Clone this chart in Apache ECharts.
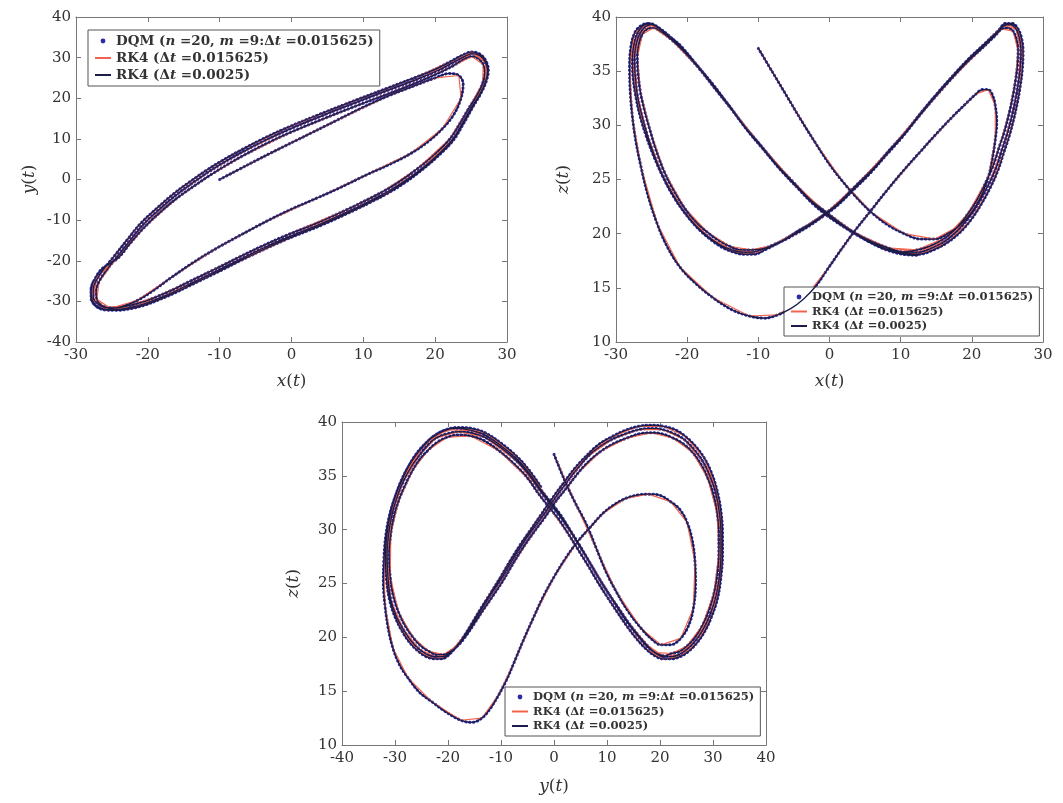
<!DOCTYPE html>
<html lang="en">
<head>
<meta charset="UTF-8">
<title>Lorenz trajectory: DQM vs RK4</title>
<script src="https://cdn.jsdelivr.net/npm/echarts@6/dist/echarts.min.js"></script>
<style>
  html, body { margin: 0; padding: 0; background: #fff; }
  #chart { width: 1063px; height: 803px; }
</style>
</head>
<body>
<div id="chart"></div>
<script>
// ---- traced trajectory points ----

// x(t) vs y(t)
const p1Start = [[-10,0],[-6,3.7],[-2,7.3],[2,10.8],[6,14.3],[10,17.8],[13.5,20.6],[17,23],[20,25],[22,26.1],[23.3,25.6],[23.9,23.5],[23.6,20],[22.6,16],[21,12.5],[19,9.3],[16.5,6.3],[13.5,3.6],[10.5,1.2],[7,-1.8],[3.5,-4.6],[0,-7.3],[-3.5,-10.3],[-7,-13.6],[-10.5,-17],[-13.9,-20.7],[-16.8,-24.2],[-19.3,-27.4],[-21.5,-29.8],[-23.5,-31.2],[-25.2,-31.7],[-26.4,-31],[-27.1,-29.5],[-27.2,-27.5],[-26.8,-25.2],[-25.8,-22.5]];
const p1LoopA = [[-24.4,-19.3],[-22.6,-15.3],[-20.7,-11.2],[-18.4,-7.4],[-16.1,-3.9],[-13.8,-0.9],[-11.6,1.8],[-9.3,4.3],[-7,6.6],[-3.7,9.6],[-0.4,12.3],[4,15.5],[8.6,18.7],[13.2,21.8],[17.8,24.9],[20.4,26.9],[22.4,28.7],[24,30.2],[25.2,31],[26.3,30.4],[27,28.8],[27.3,26.7],[27,24],[26.2,21],[25.1,17.8],[23.8,13.8],[22.4,9.8],[20.2,5.8],[17.8,2.2],[15.5,-0.7],[13.2,-3.2],[10.9,-5.3],[8.6,-7.3],[4,-11],[-0.5,-14.2],[-3.8,-16.8],[-7,-19.5],[-10.4,-22.5],[-13.9,-25.5],[-16.2,-27.5],[-18.4,-29.2],[-20.5,-30.6],[-22.5,-31.5],[-24.5,-32],[-26.1,-31.9],[-27.3,-31],[-27.9,-29.2],[-27.9,-27],[-27.4,-24.6],[-26.4,-22]];
const p1LoopB = [[-24.2,-19.4],[-22.4,-15.6],[-20.4,-11.6],[-18.1,-7.8],[-15.8,-4.4],[-13.4,-1.4],[-11.2,1.2],[-8.9,3.7],[-6.6,6],[-3.3,9],[0,11.7],[4.4,14.9],[9,18.1],[13.6,21.2],[18,24.3],[20.6,26.3],[22.6,28.1],[24,29.6],[25.1,30.3],[26,29.8],[26.7,28.3],[26.9,26.3],[26.6,23.7],[25.8,20.7],[24.7,17.6],[23.4,13.7],[22,9.9],[19.8,6],[17.4,2.5],[15.1,-0.4],[12.8,-2.9],[10.5,-5],[8.2,-7],[3.7,-10.6],[-0.8,-13.8],[-4.1,-16.4],[-7.3,-19.1],[-10.7,-22.1],[-14.2,-25.1],[-16.5,-27.1],[-18.7,-28.8],[-20.8,-30.2],[-22.8,-31.1],[-24.6,-31.6],[-26,-31.5],[-27,-30.6],[-27.6,-29],[-27.6,-27],[-27.1,-24.6],[-26.2,-22.2]];
const p1LoopC = [[-24.7,-18.9],[-22.9,-14.9],[-21,-10.8],[-18.7,-7],[-16.4,-3.5],[-14.1,-0.5],[-11.9,2.2],[-9.6,4.7],[-7.3,7],[-4,10],[-0.7,12.7],[3.7,15.9],[8.3,19.1],[12.9,22.2],[17.5,25.3],[20.2,27.3],[22.2,29.1],[23.8,30.6],[25.1,31.4],[26.3,30.8],[27.1,29.1],[27.4,26.9],[27.1,24.1],[26.3,21],[25.2,17.7],[23.9,13.6],[22.5,9.6],[20.3,5.6],[17.9,2],[15.6,-1],[13.3,-3.5],[11,-5.6],[8.7,-7.6],[4.1,-11.3],[-0.4,-14.5],[-3.7,-17.1],[-6.9,-19.8],[-10.3,-22.8],[-13.8,-25.8],[-16.1,-27.8],[-18.3,-29.5],[-20.4,-30.9],[-22.4,-31.8],[-24.4,-32.2],[-26,-32.1],[-27.2,-31.2],[-27.8,-29.4],[-27.9,-27.2],[-27.5,-24.8]];

// x(t) vs z(t)
const p2Start = [[-10,37.1],[-8,34.9],[-6,32.7],[-4,30.5],[-2,28.4],[0,26.4],[2,24.7],[4,23.2],[6,21.9],[8.2,20.8],[10.5,20],[12.8,19.5],[14.8,19.5],[16.6,20],[18.2,20.7],[19.5,21.6],[20.6,22.6],[21.6,23.9],[22.4,25.4],[22.9,27],[23.3,28.7],[23.5,30.3],[23.3,31.8],[22.9,32.8],[22.3,33.3],[21.5,33.3],[20.6,32.9],[19,31.9],[17.3,30.8],[15,29.2],[12.8,27.6],[10.5,25.9],[8.2,24.1],[5.9,22.2],[3.6,20.3],[1.5,18.4],[-0.4,16.6],[-2,15.1],[-3.6,14],[-5.4,13.1],[-7.3,12.5],[-9.1,12.2],[-11.3,12.4],[-13.8,13],[-16.4,14.1],[-18.8,15.4],[-21,16.9],[-22.8,18.8],[-24.2,20.9],[-25.5,23.5],[-26.5,26.2],[-27.2,28.5],[-27.7,30.8],[-28,33.1],[-28.1,35.4],[-27.9,37.3],[-27.4,38.5],[-26.7,39.1],[-25.6,39.4],[-24.3,39.1],[-22.7,38.3],[-21,37.4],[-18.7,35.6],[-16.4,33.8],[-14.1,31.8],[-11.8,29.8],[-9.5,28],[-7.2,26.2],[-5,24.6],[-2.7,23.1],[-0.7,22.1],[1.3,21.1],[3.5,20.1],[5.9,19.3],[8.2,18.7],[10.5,18.3]];
const p2LoopA = [[12.5,18.3],[14.5,18.7],[16.4,19.4],[18,20.3],[19.6,21.5],[21,22.9],[22.4,24.6],[23.4,26.1],[24.2,27.7],[25,29.3],[25.6,30.8],[26.1,32.3],[26.5,33.8],[26.8,35.4],[26.9,36.9],[26.7,38],[26.2,38.9],[25.4,39.3],[24.5,39.2],[23.6,38.6],[21.7,37.4],[19.6,36.1],[17.3,34.5],[15,32.8],[12.7,31],[10.5,29.2],[8.2,27.5],[5.9,25.8],[3.6,24.3],[1.3,22.8],[-0.7,21.8],[-2.7,20.9],[-4.5,20.2],[-6.2,19.5],[-7.8,19],[-9.3,18.6],[-10.8,18.3],[-12.3,18.3],[-13.7,18.5],[-15.2,18.9],[-17,19.7],[-18.7,20.7],[-20.4,22],[-21.9,23.5],[-23.4,25.3],[-24.6,27.2],[-25.6,29.1],[-26.4,31],[-27,32.8],[-27.3,34.6],[-27.4,36.1],[-27.2,37.4],[-26.7,38.4],[-25.9,39.1],[-25,39.3],[-24.1,39],[-22.5,38.2],[-20.9,37.2],[-18.7,35.6],[-16.4,33.7],[-14.1,31.8],[-11.8,29.8],[-9.5,28],[-7.2,26.2],[-4.9,24.6],[-2.7,23.1],[-0.7,22],[1.3,21],[3.5,20.1],[5.8,19.3],[8,18.7],[10.2,18.3]];
const p2LoopB = [[12.3,18.5],[14.3,18.9],[16.2,19.6],[17.8,20.5],[19.3,21.7],[20.7,23.1],[22,24.8],[23,26.3],[23.8,27.9],[24.6,29.5],[25.2,31],[25.7,32.5],[26.1,34],[26.4,35.5],[26.5,36.9],[26.3,37.9],[25.8,38.7],[25.1,39],[24.2,38.9],[23.3,38.3],[21.4,37.1],[19.3,35.8],[17,34.2],[14.7,32.5],[12.4,30.7],[10.2,28.9],[7.9,27.2],[5.6,25.5],[3.3,24],[1.1,22.6],[-0.9,21.6],[-2.9,20.7],[-4.7,20],[-6.4,19.4],[-8,18.9],[-9.5,18.6],[-11,18.5],[-12.5,18.5],[-13.9,18.8],[-15.4,19.3],[-17.1,20.1],[-18.8,21.1],[-20.4,22.4],[-21.8,23.9],[-23.2,25.7],[-24.3,27.6],[-25.2,29.5],[-26,31.4],[-26.6,33.2],[-26.9,34.9],[-27,36.3],[-26.8,37.5],[-26.3,38.4],[-25.6,38.9],[-24.7,39],[-23.8,38.7],[-22.2,37.9],[-20.6,36.9],[-18.4,35.3],[-16.1,33.4],[-13.8,31.5],[-11.5,29.5],[-9.2,27.7],[-6.9,25.9],[-4.6,24.3],[-2.4,22.8],[-0.4,21.7],[1.6,20.8],[3.8,19.9],[6.1,19.1],[8.3,18.5],[10.5,18.2]];
const p2LoopC = [[12.6,18.1],[14.6,18.5],[16.6,19.2],[18.3,20.1],[19.9,21.3],[21.3,22.7],[22.7,24.4],[23.7,25.9],[24.5,27.5],[25.3,29.1],[25.9,30.6],[26.4,32.1],[26.8,33.6],[27.1,35.2],[27.2,36.8],[27,38],[26.5,38.9],[25.7,39.4],[24.7,39.4],[23.8,38.8],[21.9,37.6],[19.8,36.3],[17.5,34.7],[15.2,33],[12.9,31.2],[10.7,29.4],[8.4,27.7],[6.1,26],[3.8,24.5],[1.5,23],[-0.5,21.9],[-2.5,21],[-4.3,20.3],[-6,19.6],[-7.6,19],[-9.1,18.5],[-10.6,18.1],[-12.1,18.1],[-13.5,18.3],[-15,18.7],[-16.8,19.5],[-18.5,20.5],[-20.2,21.8],[-21.8,23.3],[-23.3,25.1],[-24.6,27],[-25.7,28.9],[-26.6,30.8],[-27.2,32.6],[-27.6,34.4],[-27.7,36],[-27.5,37.4],[-27,38.5],[-26.2,39.2],[-25.2,39.4],[-24.2,39.1],[-22.6,38.3],[-21,37.3],[-18.8,35.7],[-16.5,33.8],[-14.2,31.9],[-11.9,29.9],[-9.6,28.1],[-7.3,26.3],[-5,24.7],[-2.8,23.2],[-0.8,22.1],[1.2,21.1],[3.4,20.1],[5.7,19.2],[8,18.5],[10.3,18.1],[12.5,18]];

// y(t) vs z(t)
const p3Start = [[0,37],[2,34.6],[4,32.5],[6.1,30.5],[8.2,28],[10,25.9],[11.8,24.2],[14,22.4],[16.5,20.8],[18.5,19.8],[20.2,19.3],[22,19.3],[23.9,19.9],[25.4,21.1],[26.3,22.7],[26.7,24.9],[26.6,27],[26.1,29],[25.1,30.7],[23.7,31.9],[22,32.6],[19.9,33.2],[17.8,33.3],[15.6,33.2],[13.5,32.9],[11.3,32.3],[9.2,31.5],[6.8,30.2],[4.3,28.8],[2,27.2],[0,25.6],[-2,23.8],[-3.9,21.8],[-5.8,19.7],[-7.5,17.7],[-9,16],[-10.5,14.6],[-12,13.4],[-13.6,12.5],[-15.5,12.1],[-17.6,12.3],[-20.5,13.1],[-23,14],[-25.4,14.9],[-27.5,16.2],[-29.1,17.4],[-30.4,19],[-31.3,20.9],[-31.9,23],[-32.2,25.1],[-32.1,27.2],[-31.8,29.2],[-31.2,31],[-30.3,32.6],[-28.7,34.6],[-26.6,36.6],[-24.5,37.9],[-22.3,38.8],[-20.1,39.3],[-18,39.4],[-15.5,39.2],[-13.1,38.8],[-10,37.8],[-6.9,36.5],[-4.6,35.2],[-2.6,33.8],[-0.7,32.6],[1.2,31.4],[3,30],[4.9,28.5],[6.8,26.9],[8.6,25.4],[10.4,24],[12.2,22.7],[14,21.4],[15.9,20.2],[17.5,19.3],[19,18.6],[20.5,18.3]];
const p3LoopA = [[22,18.2],[23.6,18.4],[25.1,18.9],[26.7,19.7],[28.2,20.8],[29.5,22.2],[30.6,23.9],[31.2,25.7],[31.5,27.6],[31.5,29.6],[31.2,31.6],[30.5,33.4],[29.4,35],[28,36.4],[26.3,37.5],[24.5,38.4],[22.7,38.9],[20.5,39.3],[18.4,39.4],[16,39.3],[13.5,38.9],[11,38.4],[8.6,37.7],[6.4,36.8],[4.3,35.6],[2.1,34.2],[0,32.8],[-2.1,31.3],[-4.2,29.9],[-6.3,28.4],[-8.2,26.9],[-10,25.4],[-11.9,24],[-13.7,22.6],[-15.3,21.3],[-16.8,20.2],[-18.3,19.2],[-19.8,18.5],[-21,18.2],[-22.3,18.2],[-23.9,18.4],[-25.4,18.9],[-27,19.7],[-28.5,20.8],[-29.8,22],[-30.8,23.5],[-31.3,25.4],[-31.5,27.6],[-31.2,29.6],[-30.6,31.3],[-29.7,32.9],[-28.5,34.4],[-27,35.8],[-25.4,36.9],[-23.9,37.8],[-22.3,38.5],[-20.2,38.9],[-18,39.1],[-15.6,39],[-13.1,38.6],[-10,37.6],[-6.9,36.3],[-4.6,35],[-2.6,33.6],[-0.7,32.4],[1.2,31.2],[3,29.9],[4.9,28.4],[6.8,26.9],[8.6,25.4],[10.4,24],[12.2,22.6],[14,21.3],[15.9,20.1],[17.5,19.2],[19,18.6],[20.5,18.2]];
const p3LoopB = [[22.2,18.5],[23.7,18.7],[25.1,19.2],[26.6,20],[28,21.1],[29.2,22.5],[30.2,24.1],[30.8,25.9],[31.1,27.7],[31.1,29.6],[30.8,31.5],[30.1,33.2],[29,34.8],[27.7,36.1],[26.1,37.2],[24.3,38],[22.5,38.5],[20.4,38.9],[18.4,39],[16.1,38.9],[13.7,38.5],[11.3,38],[8.9,37.3],[6.7,36.4],[4.6,35.3],[2.4,33.9],[0.3,32.6],[-1.8,31.1],[-3.9,29.7],[-6,28.2],[-7.9,26.7],[-9.7,25.2],[-11.6,23.8],[-13.4,22.5],[-15,21.3],[-16.5,20.2],[-18,19.3],[-19.5,18.7],[-20.8,18.4],[-22.1,18.4],[-23.6,18.7],[-25.1,19.2],[-26.6,20],[-28.1,21.1],[-29.3,22.3],[-30.3,23.8],[-30.9,25.6],[-31.1,27.7],[-30.8,29.6],[-30.2,31.2],[-29.3,32.7],[-28.1,34.1],[-26.7,35.5],[-25.2,36.6],[-23.7,37.4],[-22.1,38.1],[-20.1,38.6],[-18,38.8],[-15.7,38.7],[-13.3,38.3],[-10.3,37.3],[-7.3,36],[-5,34.8],[-3,33.4],[-1.1,32.2],[0.8,31],[2.7,29.6],[4.6,28.1],[6.5,26.6],[8.3,25.1],[10.1,23.7],[12,22.3],[13.8,21],[15.7,19.8],[17.4,18.9],[19,18.3],[20.6,18]];
const p3LoopC = [[22.1,18],[23.8,18.2],[25.4,18.7],[27,19.5],[28.5,20.6],[29.8,22],[30.9,23.7],[31.5,25.6],[31.8,27.6],[31.8,29.7],[31.5,31.7],[30.8,33.6],[29.7,35.3],[28.3,36.7],[26.6,37.8],[24.7,38.7],[22.8,39.3],[20.6,39.6],[18.4,39.7],[15.9,39.6],[13.3,39.2],[10.8,38.6],[8.4,37.9],[6.2,36.9],[4.1,35.8],[1.9,34.4],[-0.2,33],[-2.3,31.5],[-4.4,30],[-6.5,28.5],[-8.4,27],[-10.2,25.5],[-12.1,24],[-13.9,22.6],[-15.5,21.3],[-17,20.1],[-18.5,19.1],[-20,18.3],[-21.2,18],[-22.5,18],[-24.1,18.2],[-25.6,18.7],[-27.2,19.5],[-28.7,20.6],[-30,21.9],[-31,23.4],[-31.6,25.3],[-31.8,27.5],[-31.5,29.6],[-30.9,31.4],[-30,33],[-28.8,34.6],[-27.3,36],[-25.6,37.2],[-24,38.1],[-22.4,38.8],[-20.3,39.3],[-18,39.5],[-15.5,39.4],[-13,39],[-9.9,38],[-6.8,36.7],[-4.5,35.4],[-2.5,34]];

// axis ranges [min, max, step]
const xRanges = [[-30, 30, 10], [-30, 30, 10], [-40, 40, 10]];
const yRanges = [[-40, 40, 10], [10, 40, 5], [10, 40, 5]];
const xNames = ['x', 'x', 'y'];
const yNames = ['y', 'z', 'z'];

const seriesNames = ['DQM (n=20, m=9:Δt=0.015625)', 'RK4 (Δt=0.015625)', 'RK4 (Δt=0.0025)'];
const legendLabels = ['DQM ({i|n} =20, {i|m} =9:Δ{i|t} =0.015625)', 'RK4 (Δ{i|t} =0.015625)', 'RK4 (Δ{i|t} =0.0025)'];

// ---- layout ----
const serif = 'DejaVu Serif';
const dqmColor = '#2c2ca2';
const coarseColor = '#f0644e';
const fineColor = '#1c1c48';

const paths = [
  p1Start.concat(p1LoopA, p1LoopB, p1LoopC),
  p2Start.concat(p2LoopA, p2LoopB, p2LoopC),
  p3Start.concat(p3LoopA, p3LoopB, p3LoopC)
];

const grids = [
  { left: 76, top: 17, width: 431, height: 325 },
  { left: 616, top: 17, width: 427, height: 325 },
  { left: 342, top: 422, width: 424, height: 323 }
];
const legendPos = [
  { left: 88, top: 30, fs: 13.5, gap: 3 },
  { left: 784, top: 287, fs: 11.6, gap: 2.5 },
  { left: 505, top: 687, fs: 11.6, gap: 2.5 }
];
const nameGaps = [[31, 38], [31, 44], [33, 40]];

const chart = echarts.init(document.getElementById('chart'));

const italic = { i: { fontStyle: 'italic', fontFamily: serif, fontSize: 17, color: '#333' } };
const xAxes = [], yAxes = [], series = [], legends = [];

grids.forEach((g, k) => {
  const [xmin, xmax, xstep] = xRanges[k];
  const [ymin, ymax, ystep] = yRanges[k];
  const tick = { show: true, inside: true, length: 5, lineStyle: { color: '#777' } };
  const line = { show: true, onZero: false, lineStyle: { color: '#777', width: 1 } };
  const label = { fontFamily: serif, fontSize: 15, color: '#333' };

  xAxes.push({
    type: 'value', gridIndex: k, position: 'bottom', min: xmin, max: xmax, interval: xstep,
    axisLine: line, axisTick: tick, splitLine: { show: false },
    axisLabel: Object.assign({ margin: 6 }, label),
    name: '{i|' + xNames[k] + '}({i|t})', nameLocation: 'middle', nameGap: nameGaps[k][0],
    nameTextStyle: { fontFamily: serif, fontSize: 17, color: '#333', rich: italic }
  });
  xAxes.push({
    type: 'value', gridIndex: k, position: 'top', min: xmin, max: xmax, interval: xstep,
    axisLine: line, axisTick: tick, splitLine: { show: false }, axisLabel: { show: false }
  });
  yAxes.push({
    type: 'value', gridIndex: k, position: 'left', min: ymin, max: ymax, interval: ystep,
    axisLine: line, axisTick: tick, splitLine: { show: false },
    axisLabel: Object.assign({ margin: 5 }, label),
    name: '{i|' + yNames[k] + '}({i|t})', nameLocation: 'middle', nameGap: nameGaps[k][1],
    nameTextStyle: { fontFamily: serif, fontSize: 17, color: '#333', rich: italic }
  });
  yAxes.push({
    type: 'value', gridIndex: k, position: 'right', min: ymin, max: ymax, interval: ystep,
    axisLine: line, axisTick: tick, splitLine: { show: false }, axisLabel: { show: false }
  });

  const pts = paths[k];
  const ax = { xAxisIndex: 2 * k, yAxisIndex: 2 * k, type: 'line', silent: true };
  series.push(Object.assign({
    name: seriesNames[0], data: pts, smooth: 0.35, symbol: 'circle', showSymbol: false,
    itemStyle: { color: dqmColor },
    lineStyle: { color: dqmColor, width: 3, type: [0.5, 3.4], cap: 'round' }, z: 2
  }, ax));
  // coarse step: every second traced point, joined by straight segments
  series.push(Object.assign({
    name: seriesNames[1], data: pts.filter((p, i) => i % 2 === 0), smooth: false,
    symbol: 'none', itemStyle: { color: coarseColor },
    lineStyle: { color: coarseColor, width: 1.2 }, z: 3
  }, ax));
  series.push(Object.assign({
    name: seriesNames[2], data: pts, smooth: 0.35, symbol: 'none',
    itemStyle: { color: fineColor },
    lineStyle: { color: fineColor, width: 1.3 }, z: 4
  }, ax));

  const lp = legendPos[k];
  legends.push({
    orient: 'vertical', left: lp.left, top: lp.top,
    itemWidth: 16, itemHeight: 6, itemGap: lp.gap,
    padding: [4, 6, 4, 6],
    backgroundColor: '#fff', borderColor: '#555', borderWidth: 1,
    selectedMode: false,
    textStyle: {
      fontFamily: serif, fontWeight: 'bold', fontSize: lp.fs, color: '#333',
      rich: { i: { fontFamily: serif, fontStyle: 'italic', fontWeight: 'bold', fontSize: lp.fs, color: '#333' } }
    },
    formatter: n => legendLabels[seriesNames.indexOf(n)],
    data: [
      { name: seriesNames[0], lineStyle: { opacity: 0 } },
      { name: seriesNames[1], itemStyle: { opacity: 0 } },
      { name: seriesNames[2], itemStyle: { opacity: 0 } }
    ]
  });
});

chart.setOption({
  animation: false,
  backgroundColor: '#fff',
  grid: grids.map(g => Object.assign({ outerBoundsMode: 'none' }, g)),
  xAxis: xAxes,
  yAxis: yAxes,
  legend: legends,
  series: series
});
</script>
</body>
</html>
